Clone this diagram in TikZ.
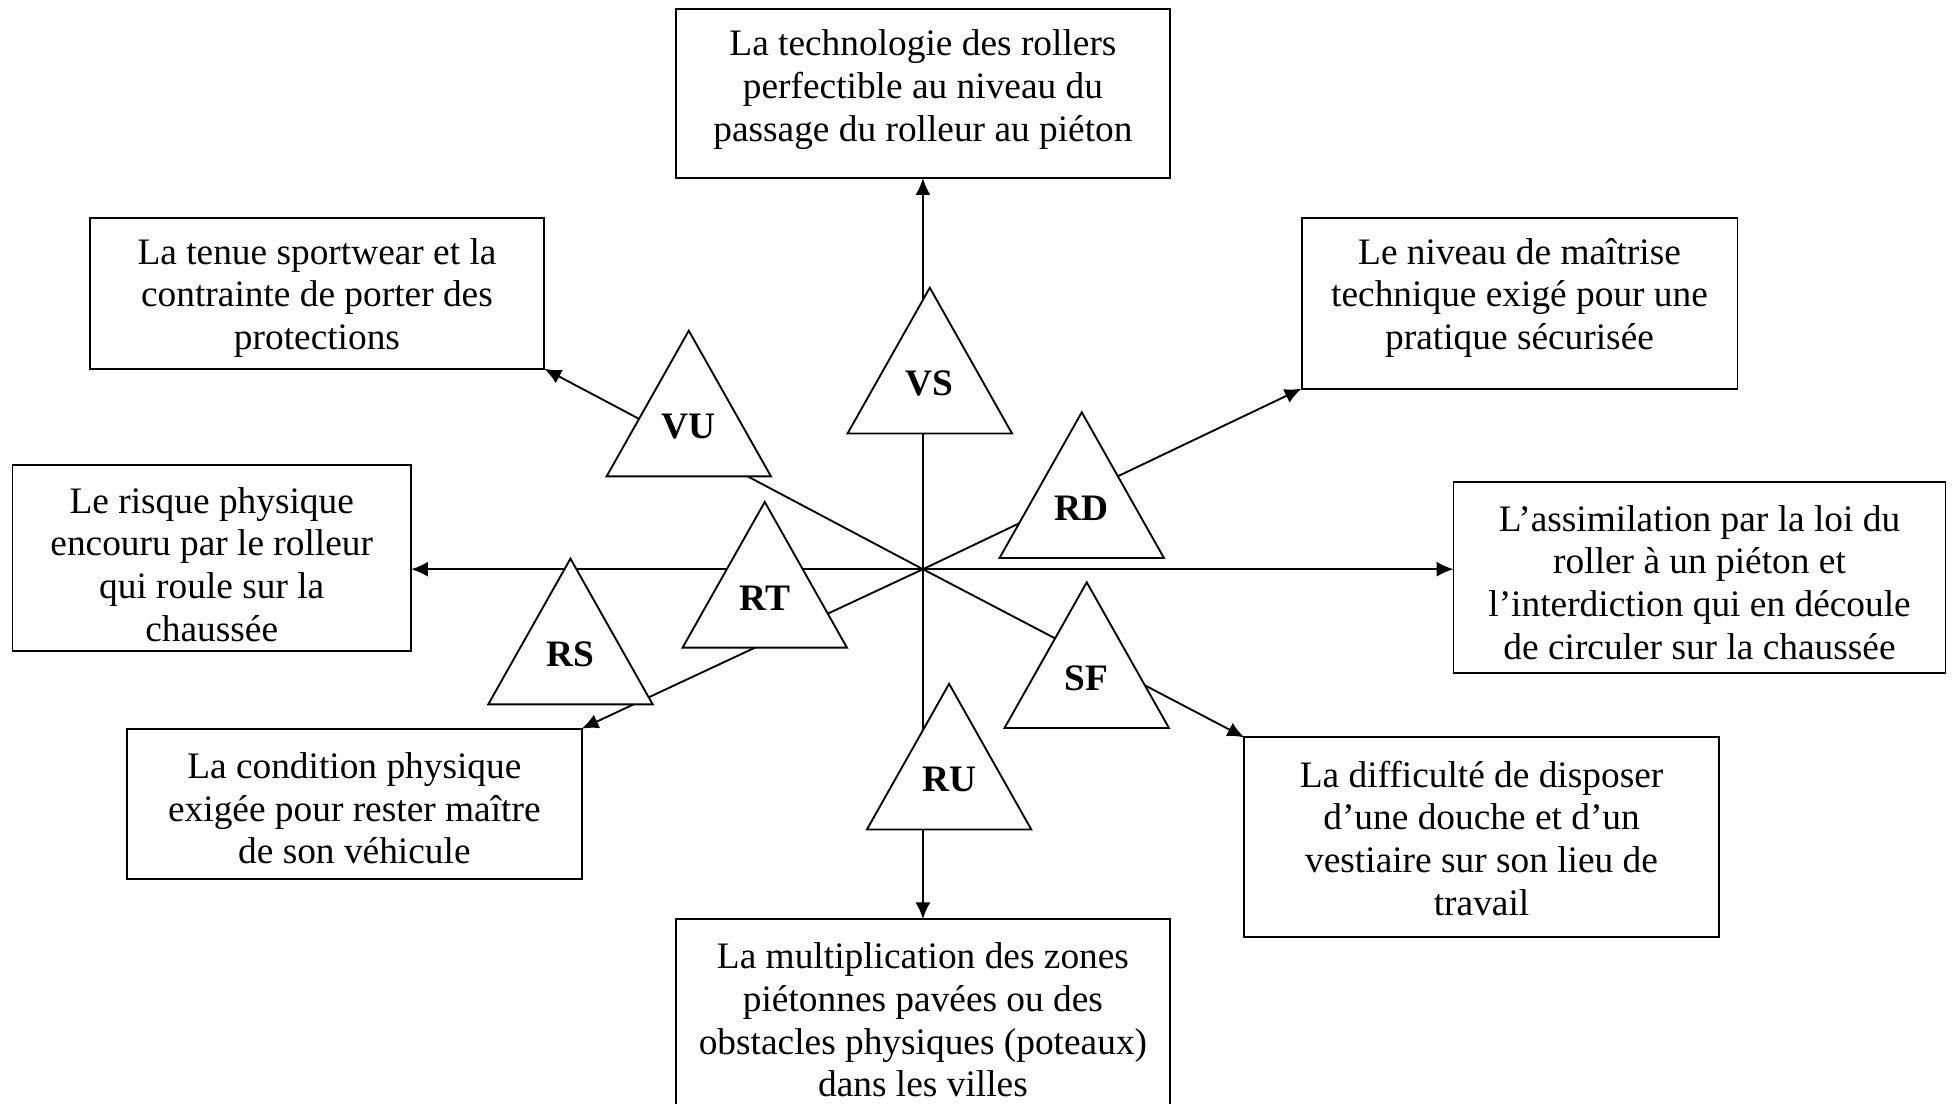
\documentclass[tikz,border=0pt]{standalone}
\usepackage{fontspec}
\setmainfont{Liberation Serif}
\usetikzlibrary{arrows.meta}
\begin{document}
\begin{tikzpicture}[x=0.4pt,y=-0.4pt,
  frame/.style={draw, line width=0.6pt, inner sep=0pt, outer sep=0pt},
  txt/.style={align=center, inner sep=0pt, font=\fontsize{12}{13.7}\selectfont},
  conn/.style={line width=0.6pt, -{Latex[length=5.4pt,width=4.8pt]}},
  tri/.style={draw, fill=white, line width=0.6pt, line join=miter},
  lab/.style={inner sep=0pt, font=\fontsize{12}{14}\selectfont\bfseries}]
\useasboundingbox (0,0) rectangle (1568,886);
\clip (0,0) rectangle (1568,886);
\fill[white] (0,0) rectangle (1568,886);

% frames
\node[frame, minimum width=158.4pt, minimum height=54.4pt] (tech) at (741,75) {};
\node[frame, minimum width=146pt, minimum height=48.4pt] (tenue) at (254.5,235.5) {};
\node[frame, minimum width=140pt, minimum height=54.8pt] (niveau) at (1220,243.5) {};
\node[frame, minimum width=128pt, minimum height=60pt] (risque) at (170,448) {};
\node[frame, minimum width=158pt, minimum height=61.2pt] (assim) at (1364.5,463.5) {};
\node[frame, minimum width=146pt, minimum height=48.4pt] (cond) at (284.5,645.5) {};
\node[frame, minimum width=152.4pt, minimum height=64pt] (diff) at (1189.5,672) {};
\node[frame, minimum width=158.4pt, minimum height=65.6pt] (multi) at (741,820) {};

% texts
\node[txt] (techT) at (741,72) {La technologie des rollers\\perfectible au niveau du\\passage du rolleur au piéton};
\node[txt] (tenueT) at (254.5,239) {La tenue sportwear et la\\contrainte de porter des\\protections};
\node[txt] (niveauT) at (1220,239) {Le niveau de maîtrise\\technique exigé pour une\\pratique sécurisée};
\node[txt] (risqueT) at (170,453) {Le risque physique\\encouru par le rolleur\\qui roule sur la\\chaussée};
\node[txt] (assimT) at (1364.5,467.5) {L’assimilation par la loi du\\roller à un piéton et\\l’interdiction qui en découle\\de circuler sur la chaussée};
\node[txt] (condT) at (284.5,649) {La condition physique\\exigée pour rester maître\\de son véhicule};
\node[txt] (diffT) at (1189.5,673) {La difficulté de disposer\\d’une douche et d’un\\vestiaire sur son lieu de\\travail};
\node[txt] (multiT) at (741,819) {La multiplication des zones\\piétonnes pavées ou des\\obstacles physiques (poteaux)\\dans les villes};

% connectors
\coordinate (c) at (741,457);
\draw[conn] (c) -- (tech.south);
\draw[conn] (c) -- (multi.north);
\draw[conn] (c) -- (c -| risque.east);
\draw[conn] (c) -- (c -| assim.west);
\draw[conn] (c) -- (tenue.south east);
\draw[conn] (c) -- (niveau.south west);
\draw[conn] (c) -- (cond.north east);
\draw[conn] (c) -- (diff.north west);

% triangles
\foreach \ax/\ay/\nm in {746.5/231/VS, 553/265.5/VU, 868.5/331/RD, 614/403/RT, 458/448.5/RS, 872.5/467.5/SF, 762/549/RU}{
  \path[tri] (\ax,\ay) -- ++(-66,117) -- ++(132,0) -- cycle;
  \node[lab] (\nm) at (\ax,\ay+77) {\nm};
}
\end{tikzpicture}
\end{document}
